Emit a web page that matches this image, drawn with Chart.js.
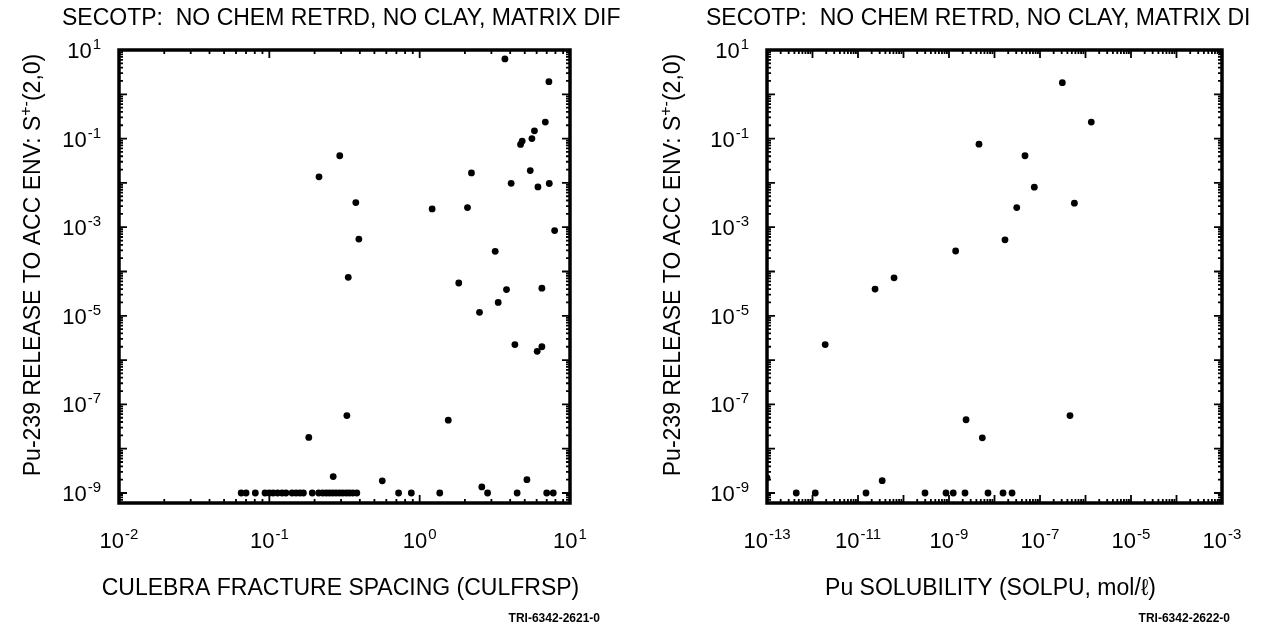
<!DOCTYPE html>
<html><head><meta charset="utf-8">
<script src="https://cdn.jsdelivr.net/npm/chart.js@4.4.1/dist/chart.umd.min.js"></script>
<style>
html,body{margin:0;padding:0;background:#fff;width:1265px;height:626px;overflow:hidden;}
canvas{position:absolute;top:0;}
</style></head><body>
<canvas id="c1" width="640" height="626" style="left:0"></canvas>
<canvas id="c2" width="625" height="626" style="left:640px"></canvas>
<script>
// ---- data ----
const culfrspX = [3.69,7.24,6.85,5.8,5.58,4.81,4.69,0.294,0.214,2.21,5.44,4.06,6.12,7.28,0.376,1.21,2.08,0.394,3.18,7.9,
  0.335,1.82,3.78,6.5,3.33,2.5,4.3,6.05,6.5,0.328,1.55,0.183,0.266,0.564,5.17,2.59,
  0.065,0.070,0.0807,0.0936,0.100,0.106,0.1135,0.1216,0.129,0.1417,0.1507,0.160,0.1686,0.193,
  0.213,0.2265,0.239,0.251,0.264,0.278,0.293,0.308,0.325,0.341,0.359,0.382,0.724,0.88,1.36,2.83,4.45,7.0,7.74];
const releaseLeftY = [6.3,1.93,0.236,0.15,0.10,0.0877,0.074,0.041,0.0137,0.0168,0.019,0.0098,0.0081,0.0097,0.0036,0.00258,0.00277,0.00054,0.000285,0.00084,
  7.4e-5,5.5e-5,3.9e-5,4.2e-5,2.0e-5,1.2e-5,2.24e-6,1.58e-6,2.0e-6,5.6e-8,4.4e-8,1.8e-8,2.35e-9,1.88e-9,2.0e-9,1.37e-9,
  1e-9,1e-9,1e-9,1e-9,1e-9,1e-9,1e-9,1e-9,1e-9,1e-9,1e-9,1e-9,1e-9,1e-9,
  1e-9,1e-9,1e-9,1e-9,1e-9,1e-9,1e-9,1e-9,1e-9,1e-9,1e-9,1e-9,1e-9,1e-9,1e-9,1e-9,1e-9,1e-9,1e-9];
const solpuX = [3.1e-7,1.34e-6,4.56e-9,4.68e-8,7.5e-8,5.7e-7,3.08e-8,1.7e-8,1.4e-9,6.2e-11,2.37e-11,1.9e-12,2.37e-9,4.56e-7,5.4e-9,3.4e-11,1.0e-13,
  4.4e-13,1.15e-12,1.5e-11,2.97e-10,8.6e-10,1.24e-9,2.25e-9,7.2e-9,1.54e-8,2.43e-8];
const releaseRightY = [1.83,0.236,0.075,0.041,0.008,0.00348,0.00277,0.00052,0.00029,7.2e-5,4.0e-5,2.24e-6,4.5e-8,5.6e-8,1.76e-8,1.9e-9,2.2e-9,
  1e-9,1e-9,1e-9,1e-9,1e-9,1e-9,1e-9,1e-9,1e-9,1e-9];
const leftXTickExp = [-2,-1,0,1];
const rightXTickExp = [-13,-11,-9,-7,-5,-3];
const yTickExp = [1,-1,-3,-5,-7,-9];
const leftTitle = "SECOTP:  NO CHEM RETRD, NO CLAY, MATRIX DIF";
const rightTitle = "SECOTP:  NO CHEM RETRD, NO CLAY, MATRIX DI";
const leftXTitle = "CULEBRA FRACTURE SPACING (CULFRSP)";
const rightXTitle = "Pu SOLUBILITY (SOLPU, mol/\u2113)";
const yTitleParts = ["Pu-239 RELEASE TO ACC ENV: S", "+-", "(2,0)"];
const leftTag = "TRI-6342-2621-0";
const rightTag = "TRI-6342-2622-0";

const FONT = "'Liberation Sans', Arial, Helvetica, sans-serif";

function pow10Label(ctx, exp, x, y, align) {
  const base = "10", e = String(exp);
  ctx.font = "22px " + FONT;
  const wb = ctx.measureText(base).width;
  ctx.font = "15px " + FONT;
  const we = ctx.measureText(e).width;
  const total = wb + we + 1;
  let sx = align === 'right' ? x - total : x - total / 2;
  ctx.textAlign = 'left'; ctx.textBaseline = 'alphabetic';
  ctx.font = "22px " + FONT; ctx.fillText(base, sx, y);
  ctx.font = "15px " + FONT; ctx.fillText(e, sx + wb + 1, y - 9);
}

function makeDecor(cfg) {
  return {
    id: 'decor',
    afterDraw(chart) {
      const ctx = chart.ctx, a = chart.chartArea;
      const xs = chart.scales.x, ys = chart.scales.y;
      ctx.save();
      ctx.fillStyle = '#000'; ctx.strokeStyle = '#000';
      // inward ticks
      ctx.lineWidth = 1.8;
      const dx0 = Math.floor(Math.log10(xs.min)), dx1 = Math.ceil(Math.log10(xs.max));
      for (let d = dx0; d <= dx1; d++) for (let m = 1; m <= 9; m++) {
        const v = m * Math.pow(10, d);
        if (v < xs.min * 0.999 || v > xs.max * 1.001) continue;
        const p = xs.getPixelForValue(v), L = m === 1 ? 8 : 4;
        ctx.beginPath(); ctx.moveTo(p, a.bottom); ctx.lineTo(p, a.bottom - L);
        ctx.moveTo(p, a.top); ctx.lineTo(p, a.top + L); ctx.stroke();
      }
      const dy0 = Math.floor(Math.log10(ys.min)), dy1 = Math.ceil(Math.log10(ys.max));
      for (let d = dy0; d <= dy1; d++) for (let m = 1; m <= 9; m++) {
        const v = m * Math.pow(10, d);
        if (v < ys.min * 0.999 || v > ys.max * 1.001) continue;
        const p = ys.getPixelForValue(v), L = m === 1 ? 8 : 4;
        ctx.beginPath(); ctx.moveTo(a.left, p); ctx.lineTo(a.left + L, p);
        ctx.moveTo(a.right, p); ctx.lineTo(a.right - L, p); ctx.stroke();
      }
      // frame
      ctx.lineWidth = 3.5;
      ctx.strokeRect(a.left, a.top, a.right - a.left, a.bottom - a.top);
      // tick labels
      cfg.xTicks.forEach(e => pow10Label(ctx, e, xs.getPixelForValue(Math.pow(10, e)), a.bottom + 45, 'center'));
      cfg.yTicks.forEach(e => pow10Label(ctx, e, a.left - 18, ys.getPixelForValue(Math.pow(10, e)) + 8, 'right'));
      // title
      ctx.font = "23px " + FONT; ctx.textAlign = 'left'; ctx.textBaseline = 'alphabetic';
      ctx.fillText(cfg.title, cfg.titleX, 25);
      // x title
      ctx.textAlign = 'center';
      ctx.fillText(cfg.xTitle, (a.left + a.right) / 2 - 4, 595);
      // y title (rotated)
      ctx.save();
      ctx.translate(cfg.yTitleX, 265);
      ctx.rotate(-Math.PI / 2);
      ctx.textAlign = 'left';
      ctx.font = "23px " + FONT;
      const w0 = ctx.measureText(yTitleParts[0]).width;
      const w2 = ctx.measureText(yTitleParts[2]).width;
      ctx.font = "16px " + FONT;
      const w1 = ctx.measureText(yTitleParts[1]).width;
      let sx = -(w0 + w1 + w2) / 2;
      ctx.font = "23px " + FONT; ctx.fillText(yTitleParts[0], sx, 0);
      ctx.font = "16px " + FONT; ctx.fillText(yTitleParts[1], sx + w0, -9);
      ctx.font = "23px " + FONT; ctx.fillText(yTitleParts[2], sx + w0 + w1, 0);
      ctx.restore();
      // tag
      ctx.font = "bold 12px " + FONT; ctx.textAlign = 'right';
      ctx.fillText(cfg.tag, cfg.tagX, 622);
      ctx.restore();
    }
  };
}

function makeChart(id, xs, ysv, xmin, xmax, padding, cfg) {
  const pts = xs.map((x, i) => ({x: x, y: ysv[i]}));
  return new Chart(document.getElementById(id), {
    type: 'scatter',
    data: {datasets: [{data: pts, backgroundColor: '#000', borderColor: '#000',
      pointRadius: 3.4, pointBorderWidth: 0, pointHoverRadius: 3.4, pointStyle: 'circle'}]},
    options: {
      responsive: false, animation: false, devicePixelRatio: 1, events: [],
      layout: {padding: padding},
      plugins: {legend: {display: false}, tooltip: {enabled: false}, title: {display: false}},
      scales: {
        x: {type: 'logarithmic', display: false, min: xmin, max: xmax},
        y: {type: 'logarithmic', display: false, min: Math.pow(10, -9.226), max: 10}
      }
    },
    plugins: [makeDecor(cfg)]
  });
}

makeChart('c1', culfrspX, releaseLeftY, 0.01, 10, {left: 119, top: 50, right: 70, bottom: 123},
  {xTicks: leftXTickExp, yTicks: yTickExp, title: leftTitle, titleX: 62, xTitle: leftXTitle, yTitleX: 40, tag: leftTag, tagX: 600});
makeChart('c2', solpuX, releaseRightY, 1e-13, 1e-3, {left: 127, top: 50, right: 43, bottom: 123},
  {xTicks: rightXTickExp, yTicks: yTickExp, title: rightTitle, titleX: 66, xTitle: rightXTitle, yTitleX: 40, tag: rightTag, tagX: 590});
</script>
</body></html>
